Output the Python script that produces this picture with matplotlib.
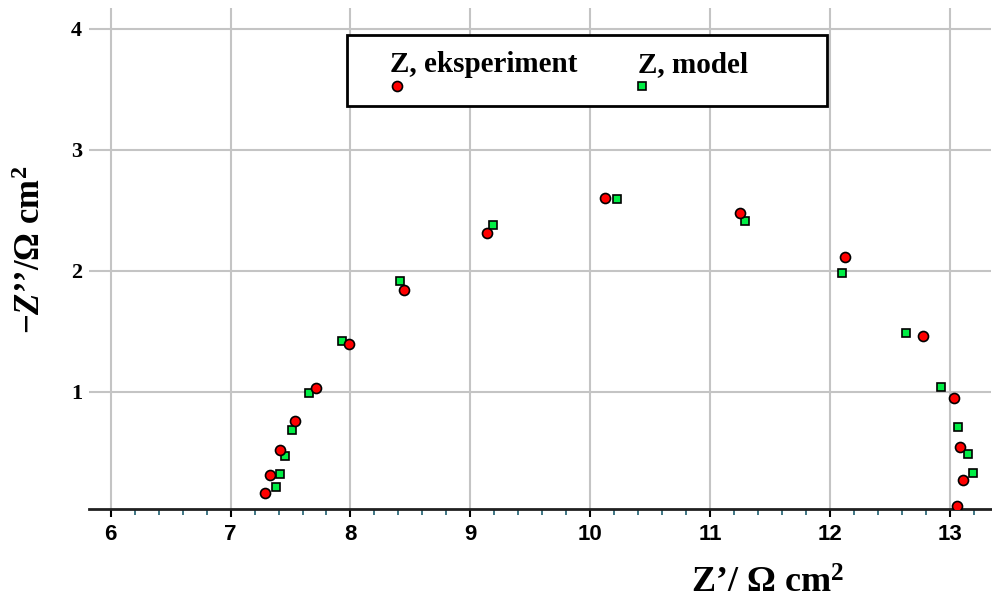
import matplotlib
matplotlib.use("Agg")
import matplotlib.pyplot as plt
from matplotlib.lines import Line2D
from matplotlib.patches import Rectangle
from matplotlib.ticker import MultipleLocator

# Data
exp_re = [7.29, 7.33, 7.415, 7.54, 7.71, 7.985, 8.45, 9.14, 10.12, 11.25, 12.12, 12.77, 13.03, 13.08, 13.11, 13.06]
exp_im = [0.16, 0.31, 0.52, 0.76, 1.03, 1.39, 1.84, 2.31, 2.60, 2.475, 2.11, 1.46, 0.95, 0.54, 0.27, 0.055]
mod_re = [7.38, 7.41, 7.45, 7.515, 7.65, 7.93, 8.415, 9.19, 10.22, 11.285, 12.10, 12.63, 12.92, 13.065, 13.15, 13.19]
mod_im = [0.21, 0.32, 0.47, 0.68, 0.99, 1.415, 1.91, 2.376, 2.59, 2.41, 1.98, 1.48, 1.035, 0.71, 0.48, 0.33]
x_ticks = [6, 7, 8, 9, 10, 11, 12, 13]
y_ticks = [1, 2, 3, 4]
legend_labels = ["Z, eksperiment", "Z, model"]

plt.rcParams['mathtext.fontset'] = 'custom'
plt.rcParams['mathtext.rm'] = 'Liberation Serif:bold'
plt.rcParams['mathtext.bf'] = 'Liberation Serif:bold'
plt.rcParams['mathtext.it'] = 'Liberation Serif:italic:bold'

W, H = 992, 608
fig = plt.figure(figsize=(W / 100, H / 100), dpi=100)
ax = fig.add_axes([89 / W, 1 - 509 / H, (991 - 89) / W, (509 - 8) / H])

ax.set_xlim(5.82, 13.34)
ax.set_ylim(0.029, 4.17)

ax.set_xticks(x_ticks)
ax.xaxis.set_minor_locator(MultipleLocator(0.2))
ax.set_yticks(y_ticks)
ax.grid(True, which='major', color='#c4c4c4', linewidth=1.5, zorder=0)
ax.set_axisbelow(True)

for s in ['top', 'right', 'left']:
    ax.spines[s].set_visible(False)
ax.spines['bottom'].set_linewidth(2.0)
ax.spines['bottom'].set_color('#202020')

ax.tick_params(axis='x', which='major', length=6, width=1.5, color='black', pad=5,
               labelsize=16)
ax.tick_params(axis='x', which='minor', length=4, width=1.2, color='#1f5f6f')
ax.tick_params(axis='y', which='major', length=0, pad=5, labelsize=16)
for lab in ax.get_xticklabels():
    lab.set_fontfamily('Liberation Sans')
    lab.set_fontweight('bold')
for lab in ax.get_yticklabels():
    lab.set_fontfamily('Liberation Serif')
    lab.set_fontweight('bold')

ax.plot(mod_re, mod_im, linestyle='none', marker='s', markersize=5.8,
        markerfacecolor='#00ee44', markeredgecolor='black', markeredgewidth=1.2,
        zorder=3, clip_on=True)
ax.plot(exp_re, exp_im, linestyle='none', marker='o', markersize=7.2,
        markerfacecolor='#ff0000', markeredgecolor='black', markeredgewidth=1.2,
        zorder=4, clip_on=True)

# Axis labels
fig.text(768 / W, 1 - 584 / H, "Z\u2019/ \u03a9 cm$^{2}$",
         fontfamily='Liberation Serif', fontweight='bold', fontsize=26,
         ha='center', va='center')
fig.text(32 / W, 1 - 250 / H, "\u2212$\\mathit{Z}$\u2019\u2019/\u03a9 cm$^{2}$",
         fontfamily='Liberation Serif', fontweight='bold', fontsize=25,
         ha='center', va='center', rotation=90)

# Legend box
fig.patches.append(Rectangle((347 / W, 1 - 106 / H), 480 / W, 71 / H,
                             transform=fig.transFigure, facecolor='white',
                             edgecolor='black', linewidth=2, zorder=5))
fig.text(390 / W, 1 - 72 / H, legend_labels[0], fontfamily='Liberation Serif',
         fontweight='bold', fontsize=21, ha='left', va='baseline', zorder=6)
fig.text(638 / W, 1 - 72 / H, legend_labels[1], fontfamily='Liberation Serif',
         fontweight='bold', fontsize=21, ha='left', va='baseline', zorder=6)
fig.lines.append(Line2D([396.7 / W], [1 - 85.7 / H], transform=fig.transFigure,
                        linestyle='none', marker='o', markersize=7.2,
                        markerfacecolor='#ff0000', markeredgecolor='black',
                        markeredgewidth=1.2, zorder=6))
fig.lines.append(Line2D([642.3 / W], [1 - 85.7 / H], transform=fig.transFigure,
                        linestyle='none', marker='s', markersize=5.8,
                        markerfacecolor='#00ee44', markeredgecolor='black',
                        markeredgewidth=1.2, zorder=6))

fig.savefig('out.png', dpi=100)
